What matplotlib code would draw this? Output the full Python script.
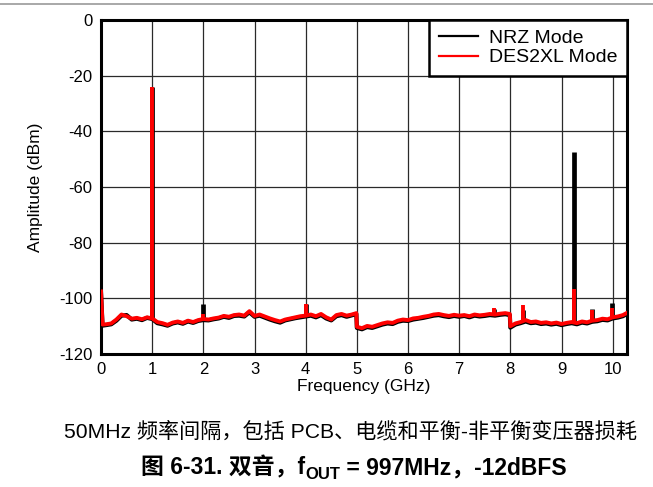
import matplotlib
matplotlib.use("Agg")
import matplotlib.pyplot as plt
from matplotlib.lines import Line2D

plt.rcParams['font.family'] = ['Liberation Sans', 'Noto Sans CJK SC', 'DejaVu Sans']
plt.rcParams['axes.unicode_minus'] = False

# noise floor samples (GHz, dBm)
freq_ghz = [0.00, 0.03, 0.10, 0.20, 0.30, 0.40, 0.50, 0.60, 0.70, 0.80, 0.90,
            1.00, 1.10, 1.20, 1.30, 1.40, 1.50, 1.60, 1.70, 1.80, 1.90,
            2.00, 2.10, 2.20, 2.30, 2.40, 2.50, 2.60, 2.70, 2.80, 2.90,
            3.00, 3.10, 3.20, 3.30, 3.40, 3.50, 3.60, 3.70, 3.80, 3.90,
            4.00, 4.10, 4.20, 4.30, 4.40, 4.50, 4.60, 4.70, 4.80, 4.90, 4.99,
            5.00, 5.10, 5.20, 5.30, 5.40, 5.50, 5.60, 5.70, 5.80, 5.90,
            6.00, 6.10, 6.20, 6.30, 6.40, 6.50, 6.60, 6.70, 6.80, 6.90,
            7.00, 7.10, 7.20, 7.30, 7.40, 7.50, 7.60, 7.70, 7.80, 7.90, 7.99,
            8.00, 8.10, 8.20, 8.30, 8.40, 8.50, 8.60, 8.70, 8.80, 8.90,
            9.00, 9.10, 9.20, 9.30, 9.40, 9.50, 9.60, 9.70, 9.80, 9.90,
            10.00, 10.10, 10.20, 10.28]

nrz_floor = [-97.8, -109.8, -109.6, -109.3, -108.0, -106.2, -106.0, -107.6, -107.3, -107.8, -107.0,
             -107.4, -108.9, -109.3, -109.8, -109.0, -108.6, -109.1, -108.3, -108.8, -108.1,
             -107.8, -107.9, -107.5, -107.2, -106.6, -107.0, -106.3, -106.2, -106.5, -105.0,
             -106.6, -106.2, -106.9, -107.6, -108.2, -108.7, -107.9, -107.5, -107.1, -106.8,
             -106.5, -106.2, -106.8, -106.0, -107.2, -107.9, -106.4, -106.0, -106.6, -106.1, -105.6,
             -110.6, -111.1, -110.3, -110.6, -110.0, -109.4, -109.0, -109.2, -108.4, -108.0,
             -108.1, -107.6, -107.3, -107.0, -106.6, -106.2, -106.0, -106.4, -106.7, -106.3,
             -106.6, -106.3, -106.8, -106.2, -106.5, -106.3, -106.0, -106.2, -105.9, -105.7, -106.0,
             -110.5, -109.4, -108.9, -108.3, -108.9, -108.7, -109.2, -109.0, -109.4, -109.1,
             -109.6, -109.2, -108.9, -109.3, -108.7, -109.0, -108.4, -108.2, -107.7, -107.9,
             -107.2, -106.9, -106.4, -105.6]

des2xl_floor = [-97.5, -109.4, -109.3, -109.0, -107.6, -105.8, -106.4, -107.3, -107.0, -107.5, -106.8,
                -107.2, -108.5, -108.9, -109.5, -108.7, -108.3, -108.8, -108.0, -108.5, -107.8,
                -107.4, -107.6, -107.2, -106.9, -106.3, -106.6, -106.0, -105.8, -106.2, -104.6,
                -106.3, -105.8, -106.5, -107.2, -107.8, -108.3, -107.6, -107.2, -106.8, -106.4,
                -106.2, -105.8, -106.4, -105.6, -106.8, -107.6, -106.0, -105.6, -106.2, -105.8, -105.3,
                -110.2, -110.7, -109.9, -110.2, -109.6, -109.0, -108.6, -108.8, -108.0, -107.6,
                -107.8, -107.2, -107.0, -106.6, -106.3, -105.8, -105.6, -106.0, -106.3, -105.9,
                -106.2, -106.0, -106.4, -105.8, -106.1, -105.9, -105.6, -105.8, -105.5, -105.3, -105.6,
                -110.0, -109.0, -108.5, -107.8, -108.5, -108.3, -108.8, -108.6, -109.0, -108.7,
                -109.2, -108.8, -108.5, -108.9, -108.3, -108.6, -108.0, -107.8, -107.3, -107.5,
                -106.8, -106.5, -106.0, -105.2]

# tones and spurs: frequency, base level, peak level
spur_ghz = [1.00, 2.00, 4.00, 7.69, 8.25, 9.25, 9.60, 9.99]
nrz_spur_base = [-107.4, -107.8, -106.5, -106.0, -108.6, -108.9, -108.4, -107.2]
nrz_spur_peak = [-24.2, -102.0, -102.0, -103.8, -104.0, -47.5, -103.8, -101.6]
des2xl_spur_base = [-107.2, -107.4, -106.2, -105.8, -108.3, -108.5, -108.0, -106.8]
des2xl_spur_peak = [-24.2, -105.5, -102.0, -103.4, -102.3, -96.8, -104.2, -103.6]

fig = plt.figure(figsize=(6.53, 4.87), dpi=100)
ax = fig.add_axes([0.1547, 0.273, 0.8055, 0.686])

ax.plot(freq_ghz, nrz_floor, color='black', lw=3.0, zorder=3, label='NRZ Mode')
ax.vlines(spur_ghz, nrz_spur_base, nrz_spur_peak, color='black', lw=3.4, zorder=3)
ax.plot(freq_ghz, des2xl_floor, color='#ff0000', lw=2.8, zorder=4, label='DES2XL Mode')
ax.vlines(spur_ghz, des2xl_spur_base, des2xl_spur_peak, color='#ff0000', lw=2.8, zorder=4)

ax.set_xlim(0, 10.28)
ax.set_ylim(-120, 0)
ax.set_xticks(range(0, 11))
ax.set_yticks(range(-120, 1, 20))
ax.grid(True, color='#2a2a2a', lw=0.9)
ax.tick_params(length=0, labelsize=12, pad=6)
for s in ax.spines.values():
    s.set_linewidth(2.2)

ax.set_xlabel('Frequency (GHz)', fontsize=12.5, labelpad=1)
ax.set_ylabel('Amplitude (dBm)', fontsize=12.5, labelpad=12)

leg = ax.legend(loc='upper right', fontsize=14, frameon=True, fancybox=False,
                borderaxespad=0, handlelength=2.0, handletextpad=0.55,
                borderpad=0.5, labelspacing=0.08, framealpha=1)
leg.get_frame().set_edgecolor('black')
leg.get_frame().set_linewidth(1.8)
for h in leg.legend_handles:
    h.set_linewidth(1.6)

# page header rule
fig.add_artist(Line2D([0, 1], [1 - 4 / 487, 1 - 4 / 487], color='#999999', lw=1.2))

fig.text(0.537, 1 - 431 / 487, '50MHz 频率间隔，包括 PCB、电缆和平衡-非平衡变压器损耗',
         ha='center', va='center', fontsize=15.2)

# bold caption with subscript, laid out piece by piece and centred
renderer = fig.canvas.get_renderer()
W, H = fig.bbox.width, fig.bbox.height
base_y = 1 - 474 / 487
pieces = [('图 6-31. 双音，f', 16.5, 0), ('OUT', 12, -5), (' = 997MHz，-12dBFS', 16.5, 0)]
texts = []
for s, size, dy in pieces:
    texts.append(fig.text(0, base_y + dy / H, s, ha='left', va='baseline',
                          fontsize=size, fontweight='bold'))
widths = [t.get_window_extent(renderer).width / W for t in texts]
x = 0.542 - sum(widths) / 2
for t, w in zip(texts, widths):
    t.set_x(x)
    x += w

fig.savefig('out.png', dpi=100)
